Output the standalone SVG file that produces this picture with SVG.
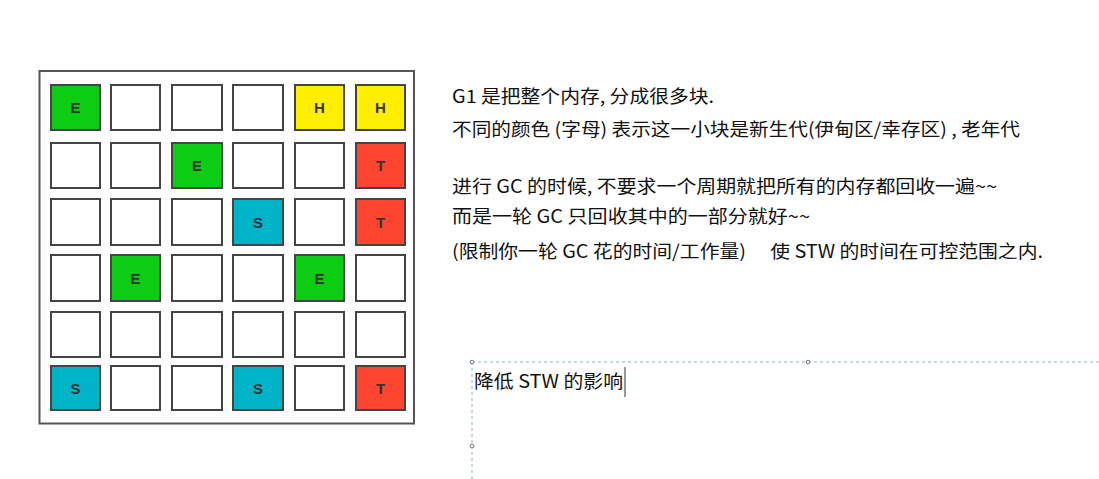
<svg xmlns="http://www.w3.org/2000/svg" width="1099" height="479" viewBox="0 0 1099 479">
<style>
.cell{stroke:#444;stroke-width:2;fill:#fff}
.E{fill:#0ccc14}.H{fill:#ffee00}.T{fill:#ff4530}.S{fill:#00b4c8}
.lbl{font-family:"Liberation Sans",Arial,sans-serif;font-weight:bold;font-size:15px;fill:#333;text-anchor:middle}
.txt{font-family:"Noto Sans CJK SC","Liberation Sans",sans-serif;font-size:18px;fill:#111}
.dash{stroke:#8ab4c8;stroke-width:1;stroke-dasharray:3,3;fill:none}
.handle{fill:#fff;stroke:#777;stroke-width:1}
</style>
<rect x="0" y="0" width="1099" height="479" fill="#fff"/>
<g id="grid">
<rect x="39.5" y="71" width="374.5" height="352.5" fill="#fff" stroke="#555" stroke-width="2"/>
<g id="row1">
<rect class="cell E" x="51" y="85" width="49" height="45"/><text class="lbl" x="75.5" y="113">E</text>
<rect class="cell" x="111" y="85" width="49" height="45"/>
<rect class="cell" x="172" y="85" width="50" height="45"/>
<rect class="cell" x="233" y="85" width="50" height="45"/>
<rect class="cell H" x="295" y="85" width="49" height="45"/><text class="lbl" x="319.5" y="113">H</text>
<rect class="cell H" x="356" y="85" width="49" height="45"/><text class="lbl" x="380.5" y="113">H</text>
</g>
<g id="row2">
<rect class="cell" x="51" y="143" width="49" height="45"/>
<rect class="cell" x="111" y="143" width="49" height="45"/>
<rect class="cell E" x="172" y="143" width="50" height="45"/><text class="lbl" x="197" y="171">E</text>
<rect class="cell" x="233" y="143" width="50" height="45"/>
<rect class="cell" x="295" y="143" width="49" height="45"/>
<rect class="cell T" x="356" y="143" width="49" height="45"/><text class="lbl" x="380.5" y="171">T</text>
</g>
<g id="row3">
<rect class="cell" x="51" y="199" width="49" height="46"/>
<rect class="cell" x="111" y="199" width="49" height="46"/>
<rect class="cell" x="172" y="199" width="50" height="46"/>
<rect class="cell S" x="233" y="199" width="50" height="46"/><text class="lbl" x="258" y="228">S</text>
<rect class="cell" x="295" y="199" width="49" height="46"/>
<rect class="cell T" x="356" y="199" width="49" height="46"/><text class="lbl" x="380.5" y="228">T</text>
</g>
<g id="row4">
<rect class="cell" x="51" y="255" width="49" height="46"/>
<rect class="cell E" x="111" y="255" width="49" height="46"/><text class="lbl" x="135.5" y="284">E</text>
<rect class="cell" x="172" y="255" width="50" height="46"/>
<rect class="cell" x="233" y="255" width="50" height="46"/>
<rect class="cell E" x="295" y="255" width="49" height="46"/><text class="lbl" x="319.5" y="284">E</text>
<rect class="cell" x="356" y="255" width="49" height="46"/>
</g>
<g id="row5">
<rect class="cell" x="51" y="312" width="49" height="45"/>
<rect class="cell" x="111" y="312" width="49" height="45"/>
<rect class="cell" x="172" y="312" width="50" height="45"/>
<rect class="cell" x="233" y="312" width="50" height="45"/>
<rect class="cell" x="295" y="312" width="49" height="45"/>
<rect class="cell" x="356" y="312" width="49" height="45"/>
</g>
<g id="row6">
<rect class="cell S" x="51" y="366" width="49" height="44"/><text class="lbl" x="75.5" y="394">S</text>
<rect class="cell" x="111" y="366" width="49" height="44"/>
<rect class="cell" x="172" y="366" width="50" height="44"/>
<rect class="cell S" x="233" y="366" width="50" height="44"/><text class="lbl" x="258" y="394">S</text>
<rect class="cell" x="295" y="366" width="49" height="44"/>
<rect class="cell T" x="356" y="366" width="49" height="44"/><text class="lbl" x="380.5" y="394">T</text>
</g>
</g>
<g id="notes">
<text class="txt" x="452" y="103" textLength="262" lengthAdjust="spacingAndGlyphs">G1 是把整个内存, 分成很多块.</text>
<text class="txt" x="452" y="136" textLength="568" lengthAdjust="spacingAndGlyphs">不同的颜色 (字母) 表示这一小块是新生代(伊甸区/幸存区) , 老年代</text>
<text class="txt" x="452" y="193" textLength="545" lengthAdjust="spacingAndGlyphs">进行 GC 的时候, 不要求一个周期就把所有的内存都回收一遍~~</text>
<text class="txt" x="452" y="223" textLength="358" lengthAdjust="spacingAndGlyphs">而是一轮 GC 只回收其中的一部分就好~~</text>
<text class="txt" x="452" y="258" textLength="591" lengthAdjust="spacingAndGlyphs">(限制你一轮 GC 花的时间/工作量)　 使 STW 的时间在可控范围之内.</text>
</g>
<g id="textbox">
<line class="dash" x1="472" y1="362" x2="1099" y2="362"/>
<line class="dash" x1="472" y1="362" x2="472" y2="479"/>
<circle class="handle" cx="472" cy="362" r="1.8"/>
<circle class="handle" cx="808" cy="362" r="1.8"/>
<circle class="handle" cx="472" cy="446" r="1.8"/>
<text class="txt" x="474" y="388" textLength="149" lengthAdjust="spacingAndGlyphs">降低 STW 的影响</text>
<line x1="625" y1="367" x2="625" y2="397" stroke="#333" stroke-width="1"/>
</g>
</svg>
